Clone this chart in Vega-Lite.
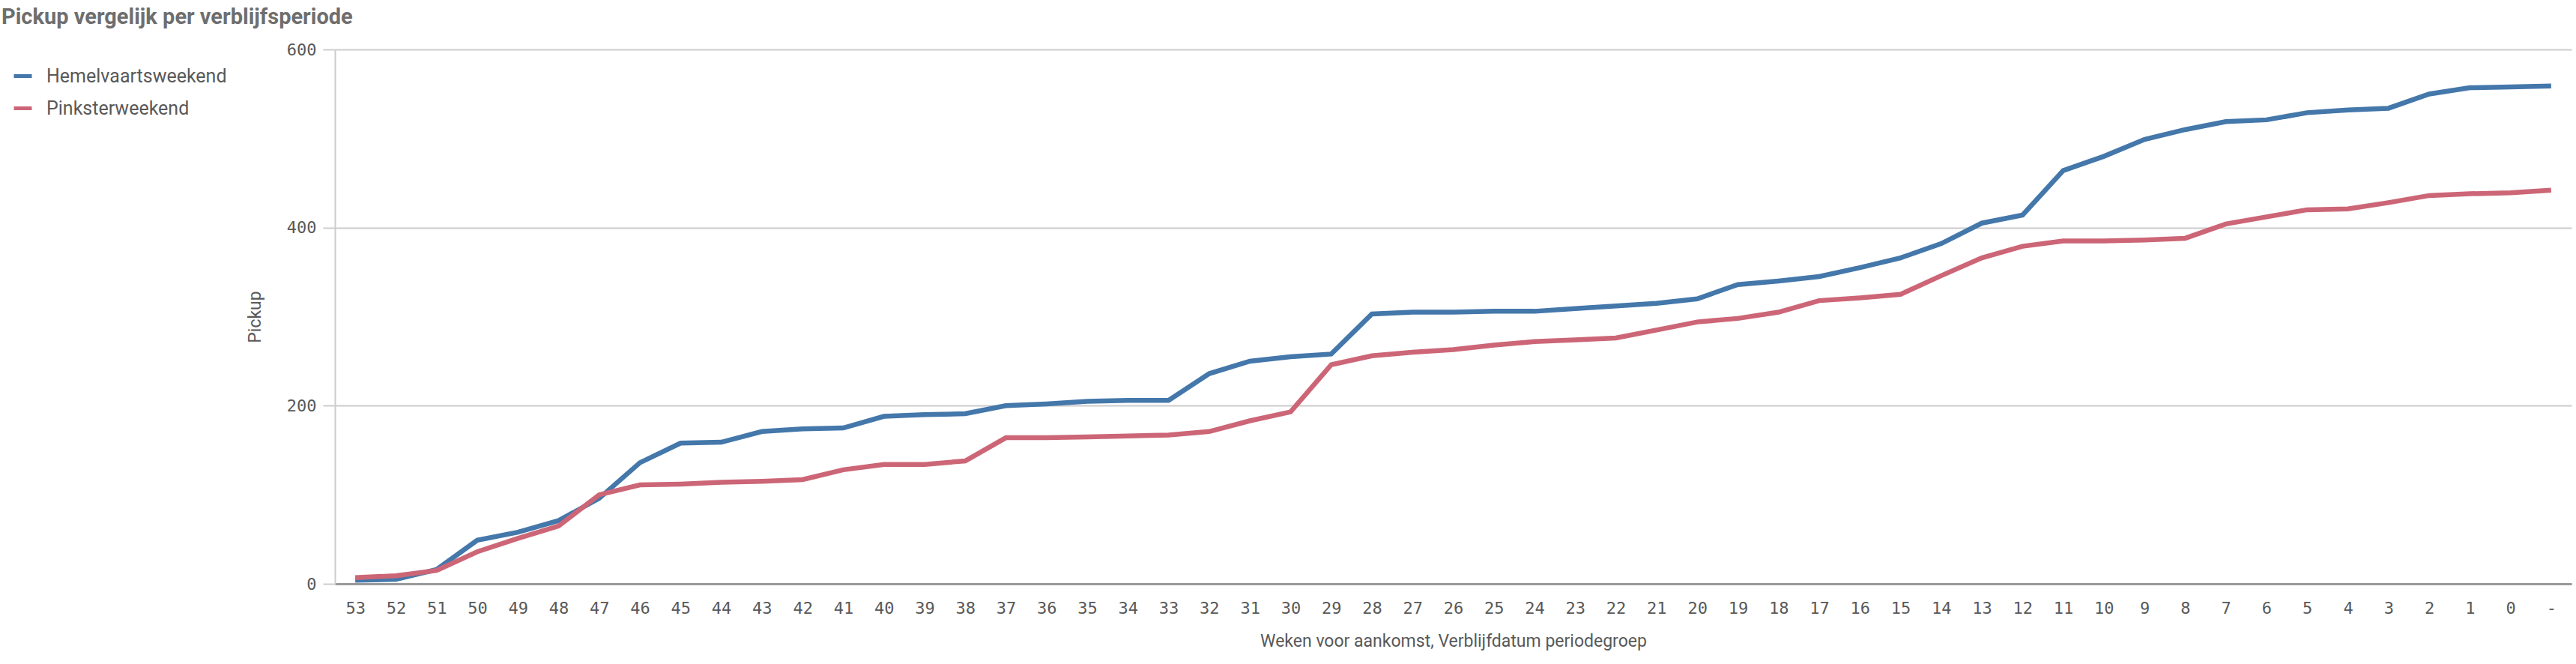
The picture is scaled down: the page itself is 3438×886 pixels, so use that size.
{
  "$schema": "https://vega.github.io/schema/vega-lite/v6.json",
  "width": 2985,
  "height": 713,
  "autosize": {"type": "none"},
  "padding": {"left": 447, "top": 66, "right": 6, "bottom": 107},
  "background": "white",
  "title": {
    "text": "Pickup vergelijk per verblijfsperiode",
    "anchor": "start",
    "frame": "group",
    "dx": -445,
    "offset": 17,
    "font": "Roboto",
    "fontSize": 29,
    "fontWeight": "bold",
    "color": "#6e6e6e"
  },
  "data": {
    "values": [
      {"week":"53","series":"Hemelvaartsweekend","pickup":4},
      {"week":"52","series":"Hemelvaartsweekend","pickup":5},
      {"week":"51","series":"Hemelvaartsweekend","pickup":16},
      {"week":"50","series":"Hemelvaartsweekend","pickup":49},
      {"week":"49","series":"Hemelvaartsweekend","pickup":58},
      {"week":"48","series":"Hemelvaartsweekend","pickup":71},
      {"week":"47","series":"Hemelvaartsweekend","pickup":96},
      {"week":"46","series":"Hemelvaartsweekend","pickup":136},
      {"week":"45","series":"Hemelvaartsweekend","pickup":158},
      {"week":"44","series":"Hemelvaartsweekend","pickup":159},
      {"week":"43","series":"Hemelvaartsweekend","pickup":171},
      {"week":"42","series":"Hemelvaartsweekend","pickup":174},
      {"week":"41","series":"Hemelvaartsweekend","pickup":175},
      {"week":"40","series":"Hemelvaartsweekend","pickup":188},
      {"week":"39","series":"Hemelvaartsweekend","pickup":190},
      {"week":"38","series":"Hemelvaartsweekend","pickup":191},
      {"week":"37","series":"Hemelvaartsweekend","pickup":200},
      {"week":"36","series":"Hemelvaartsweekend","pickup":202},
      {"week":"35","series":"Hemelvaartsweekend","pickup":205},
      {"week":"34","series":"Hemelvaartsweekend","pickup":206},
      {"week":"33","series":"Hemelvaartsweekend","pickup":206},
      {"week":"32","series":"Hemelvaartsweekend","pickup":236},
      {"week":"31","series":"Hemelvaartsweekend","pickup":250},
      {"week":"30","series":"Hemelvaartsweekend","pickup":255},
      {"week":"29","series":"Hemelvaartsweekend","pickup":258},
      {"week":"28","series":"Hemelvaartsweekend","pickup":303},
      {"week":"27","series":"Hemelvaartsweekend","pickup":305},
      {"week":"26","series":"Hemelvaartsweekend","pickup":305},
      {"week":"25","series":"Hemelvaartsweekend","pickup":306},
      {"week":"24","series":"Hemelvaartsweekend","pickup":306},
      {"week":"23","series":"Hemelvaartsweekend","pickup":309},
      {"week":"22","series":"Hemelvaartsweekend","pickup":312},
      {"week":"21","series":"Hemelvaartsweekend","pickup":315},
      {"week":"20","series":"Hemelvaartsweekend","pickup":320},
      {"week":"19","series":"Hemelvaartsweekend","pickup":336},
      {"week":"18","series":"Hemelvaartsweekend","pickup":340},
      {"week":"17","series":"Hemelvaartsweekend","pickup":345},
      {"week":"16","series":"Hemelvaartsweekend","pickup":355},
      {"week":"15","series":"Hemelvaartsweekend","pickup":366},
      {"week":"14","series":"Hemelvaartsweekend","pickup":382},
      {"week":"13","series":"Hemelvaartsweekend","pickup":405},
      {"week":"12","series":"Hemelvaartsweekend","pickup":414},
      {"week":"11","series":"Hemelvaartsweekend","pickup":464},
      {"week":"10","series":"Hemelvaartsweekend","pickup":480},
      {"week":"9","series":"Hemelvaartsweekend","pickup":499},
      {"week":"8","series":"Hemelvaartsweekend","pickup":510},
      {"week":"7","series":"Hemelvaartsweekend","pickup":519},
      {"week":"6","series":"Hemelvaartsweekend","pickup":521},
      {"week":"5","series":"Hemelvaartsweekend","pickup":529},
      {"week":"4","series":"Hemelvaartsweekend","pickup":532},
      {"week":"3","series":"Hemelvaartsweekend","pickup":534},
      {"week":"2","series":"Hemelvaartsweekend","pickup":550},
      {"week":"1","series":"Hemelvaartsweekend","pickup":557},
      {"week":"0","series":"Hemelvaartsweekend","pickup":558},
      {"week":"-","series":"Hemelvaartsweekend","pickup":559},
      {"week":"53","series":"Pinksterweekend","pickup":7},
      {"week":"52","series":"Pinksterweekend","pickup":9},
      {"week":"51","series":"Pinksterweekend","pickup":15},
      {"week":"50","series":"Pinksterweekend","pickup":36},
      {"week":"49","series":"Pinksterweekend","pickup":51},
      {"week":"48","series":"Pinksterweekend","pickup":65},
      {"week":"47","series":"Pinksterweekend","pickup":100},
      {"week":"46","series":"Pinksterweekend","pickup":111},
      {"week":"45","series":"Pinksterweekend","pickup":112},
      {"week":"44","series":"Pinksterweekend","pickup":114},
      {"week":"43","series":"Pinksterweekend","pickup":115},
      {"week":"42","series":"Pinksterweekend","pickup":117},
      {"week":"41","series":"Pinksterweekend","pickup":128},
      {"week":"40","series":"Pinksterweekend","pickup":134},
      {"week":"39","series":"Pinksterweekend","pickup":134},
      {"week":"38","series":"Pinksterweekend","pickup":138},
      {"week":"37","series":"Pinksterweekend","pickup":164},
      {"week":"36","series":"Pinksterweekend","pickup":164},
      {"week":"35","series":"Pinksterweekend","pickup":165},
      {"week":"34","series":"Pinksterweekend","pickup":166},
      {"week":"33","series":"Pinksterweekend","pickup":167},
      {"week":"32","series":"Pinksterweekend","pickup":171},
      {"week":"31","series":"Pinksterweekend","pickup":183},
      {"week":"30","series":"Pinksterweekend","pickup":193},
      {"week":"29","series":"Pinksterweekend","pickup":246},
      {"week":"28","series":"Pinksterweekend","pickup":256},
      {"week":"27","series":"Pinksterweekend","pickup":260},
      {"week":"26","series":"Pinksterweekend","pickup":263},
      {"week":"25","series":"Pinksterweekend","pickup":268},
      {"week":"24","series":"Pinksterweekend","pickup":272},
      {"week":"23","series":"Pinksterweekend","pickup":274},
      {"week":"22","series":"Pinksterweekend","pickup":276},
      {"week":"21","series":"Pinksterweekend","pickup":285},
      {"week":"20","series":"Pinksterweekend","pickup":294},
      {"week":"19","series":"Pinksterweekend","pickup":298},
      {"week":"18","series":"Pinksterweekend","pickup":305},
      {"week":"17","series":"Pinksterweekend","pickup":318},
      {"week":"16","series":"Pinksterweekend","pickup":321},
      {"week":"15","series":"Pinksterweekend","pickup":325},
      {"week":"14","series":"Pinksterweekend","pickup":346},
      {"week":"13","series":"Pinksterweekend","pickup":366},
      {"week":"12","series":"Pinksterweekend","pickup":379},
      {"week":"11","series":"Pinksterweekend","pickup":385},
      {"week":"10","series":"Pinksterweekend","pickup":385},
      {"week":"9","series":"Pinksterweekend","pickup":386},
      {"week":"8","series":"Pinksterweekend","pickup":388},
      {"week":"7","series":"Pinksterweekend","pickup":404},
      {"week":"6","series":"Pinksterweekend","pickup":412},
      {"week":"5","series":"Pinksterweekend","pickup":420},
      {"week":"4","series":"Pinksterweekend","pickup":421},
      {"week":"3","series":"Pinksterweekend","pickup":428},
      {"week":"2","series":"Pinksterweekend","pickup":436},
      {"week":"1","series":"Pinksterweekend","pickup":438},
      {"week":"0","series":"Pinksterweekend","pickup":439},
      {"week":"-","series":"Pinksterweekend","pickup":442}
    ]
  },
  "mark": {"type": "line", "strokeWidth": 6.5, "strokeJoin": "miter"},
  "encoding": {
    "x": {
      "field": "week",
      "type": "ordinal",
      "sort": null,
      "scale": {"padding": 0.5},
      "axis": {
        "title": "Weken voor aankomst, Verblijfdatum periodegroep",
        "titleFont": "Roboto",
        "titleFontSize": 23,
        "titleFontWeight": "normal",
        "titleColor": "#595959",
        "titlePadding": 22,
        "labelFont": "DejaVu Sans Mono",
        "labelFontSize": 22,
        "labelColor": "#595959",
        "labelAngle": 0,
        "labelPadding": 22,
        "ticks": false,
        "domainColor": "#999999",
        "domainWidth": 3,
        "grid": false
      }
    },
    "y": {
      "field": "pickup",
      "type": "quantitative",
      "scale": {"domain": [0, 600], "nice": false},
      "axis": {
        "title": "Pickup",
        "titleFont": "Roboto",
        "titleFontSize": 23,
        "titleFontWeight": "normal",
        "titleColor": "#595959",
        "titlePadding": 30,
        "values": [0, 200, 400, 600],
        "labelFont": "DejaVu Sans Mono",
        "labelFontSize": 22,
        "labelColor": "#595959",
        "labelPadding": 9,
        "tickSize": 16,
        "tickColor": "#cccccc",
        "tickWidth": 2,
        "grid": true,
        "gridColor": "#cccccc",
        "gridWidth": 2,
        "domainColor": "#cccccc",
        "domainWidth": 2
      }
    },
    "color": {
      "field": "series",
      "type": "nominal",
      "scale": {"domain": ["Hemelvaartsweekend", "Pinksterweekend"], "range": ["#4477aa", "#cc6677"]},
      "legend": {
        "title": null,
        "orient": "none",
        "legendX": -431,
        "legendY": 21,
        "symbolType": "stroke",
        "symbolSize": 576,
        "symbolStrokeWidth": 5,
        "labelFont": "Roboto",
        "labelFontSize": 25,
        "labelColor": "#595959",
        "labelOffset": 17,
        "labelLimit": 400,
        "rowPadding": 15
      }
    }
  },
  "config": {"view": {"stroke": null}}
}
